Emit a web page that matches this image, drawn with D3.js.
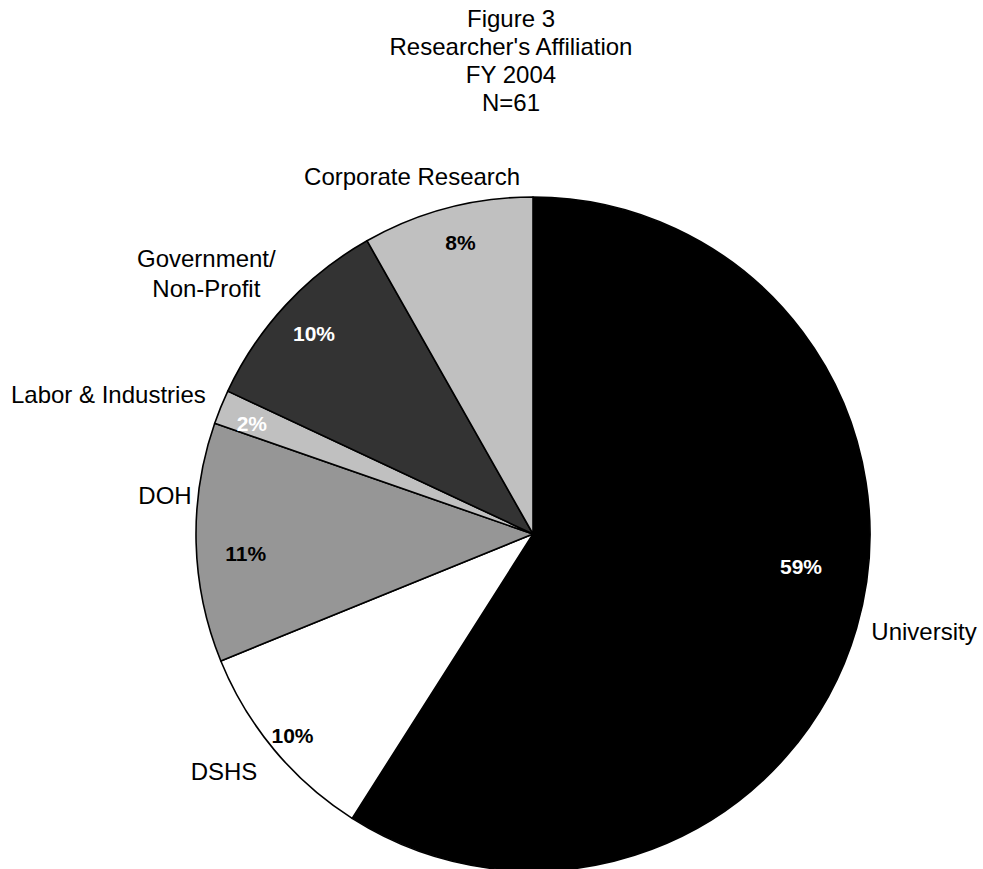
<!DOCTYPE html>
<html>
<head>
<meta charset="utf-8">
<script src="https://cdn.jsdelivr.net/npm/d3@7"></script>
<style>
  body { margin: 0; background: #fff; }
  text { font-family: "Liberation Sans", Arial, sans-serif; }
</style>
</head>
<body>
<div id="chart"></div>
<script>
// data (N=61)
var categories = ["University", "DSHS", "DOH", "Labor & Industries", "Government/\nNon-Profit", "Corporate Research"];
var counts = [36, 6, 7, 1, 6, 5];
var pctLabels = ["59%", "10%", "11%", "2%", "10%", "8%"];
var titleLines = ["Figure 3", "Researcher's Affiliation", "FY 2004", "N=61"];

// styling
var fills = ["#000000", "#ffffff", "#969696", "#c0c0c0", "#333333", "#c0c0c0"];
var pctFills = ["#fff", "#000", "#000", "#fff", "#fff", "#000"];

// label placement: [angle in degrees clockwise from top, distance from centre]
var pctPlace = [[97, 270], [230, 314], [266, 288], [291.4, 302], [312.5, 297], [346, 300]];
var namePlace = [[104, 403], [232.4, 390], [276, 370], [288.2, 447], [308.6, 418], [341.3, 377]];

var width = 983, height = 869;
var cx = 533, cy = 534, radius = 337;

var svg = d3.select("#chart")
  .append("svg")
    .attr("width", width)
    .attr("height", height);

// title
svg.append("g").selectAll("text")
  .data(titleLines)
  .enter()
  .append("text")
    .attr("x", 511)
    .attr("y", function(d, i) { return 27 + i * 28; })
    .attr("text-anchor", "middle")
    .style("font-size", "24px")
    .text(function(d) { return d; });

var pie = d3.pie().sort(null).value(function(d) { return d; });
var arcs = pie(counts);
var arc = d3.arc().innerRadius(0).outerRadius(radius);

var g = svg.append("g")
    .attr("transform", "translate(" + cx + "," + cy + ")");

g.selectAll("path")
  .data(arcs)
  .enter()
  .append("path")
    .attr("d", arc)
    .style("fill", function(d, i) { return fills[i]; })
    .style("stroke", "#000")
    .style("stroke-width", 1.6)
    .style("stroke-linejoin", "round");

function polar(p) {
  var a = p[0] * Math.PI / 180;
  return [p[1] * Math.sin(a), -p[1] * Math.cos(a)];
}

// percentage labels inside slices
g.selectAll(".pct")
  .data(arcs)
  .enter()
  .append("text")
    .attr("class", "pct")
    .attr("transform", function(d, i) { return "translate(" + polar(pctPlace[i]) + ")"; })
    .attr("dy", "0.35em")
    .attr("text-anchor", "middle")
    .style("font-size", "21px")
    .style("font-weight", "bold")
    .style("fill", function(d, i) { return pctFills[i]; })
    .text(function(d, i) { return pctLabels[i]; });

// category labels outside
var names = g.selectAll(".name")
  .data(arcs)
  .enter()
  .append("text")
    .attr("class", "name")
    .attr("transform", function(d, i) { return "translate(" + polar(namePlace[i]) + ")"; })
    .attr("text-anchor", "middle")
    .style("font-size", "24px")
    .style("fill", "#000");

names.each(function(d, i) {
  var lines = categories[i].split("\n");
  var t = d3.select(this);
  lines.forEach(function(line, j) {
    t.append("tspan")
      .attr("x", 0)
      .attr("y", (j - (lines.length - 1) / 2) * 30)
      .attr("dy", "0.35em")
      .text(line);
  });
});
</script>
</body>
</html>
